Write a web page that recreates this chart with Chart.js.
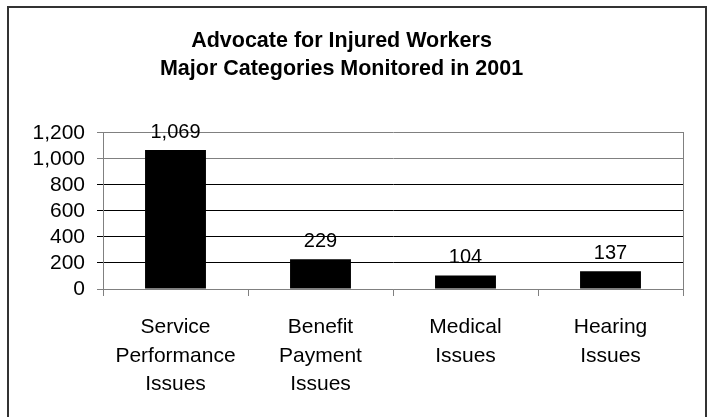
<!DOCTYPE html>
<html>
<head>
<meta charset="utf-8">
<script src="https://cdn.jsdelivr.net/npm/chart.js@4/dist/chart.umd.min.js"></script>
<style>
  html, body { margin: 0; padding: 0; background: #fff; overflow: hidden; }
  #wrap { position: relative; width: 707px; height: 417px; }
  #frame { position: absolute; left: 7px; top: 6px; width: 696px; height: 430px; border: 2px solid #333; border-bottom: none; }
  canvas { position: absolute; left: 0; top: 0; }
</style>
</head>
<body>
<div id="wrap">
  <div id="frame"></div>
  <canvas id="c" width="707" height="417"></canvas>
</div>
<script>
// data
const categories = [
    ['Service', 'Performance', 'Issues'],
    ['Benefit', 'Payment', 'Issues'],
    ['Medical', 'Issues'],
    ['Hearing', 'Issues']
];
const issueCounts = [1069, 229, 104, 137];
const yTicks = [0, 200, 400, 600, 800, 1000, 1200];
const titleLines = ['Advocate for Injured Workers', 'Major Categories Monitored in 2001'];

const FONT = "'Liberation Sans', Arial, sans-serif";
const fmt = v => v.toLocaleString('en-US');

// value labels above the bars
const barLabels = {
    id: 'barLabels',
    afterDatasetsDraw(chart) {
        const ctx = chart.ctx;
        const meta = chart.getDatasetMeta(0);
        ctx.save();
        ctx.font = '20px ' + FONT;
        ctx.fillStyle = '#000';
        ctx.textAlign = 'center';
        ctx.textBaseline = 'alphabetic';
        meta.data.forEach((bar, i) => {
            ctx.fillText(fmt(issueCounts[i]), bar.x, bar.y - 12);
        });
        ctx.restore();
    }
};

new Chart(document.getElementById('c'), {
    type: 'bar',
    data: {
        labels: categories,
        datasets: [{
            data: issueCounts,
            backgroundColor: '#000',
            borderWidth: 0,
            barPercentage: 0.42,
            categoryPercentage: 1
        }]
    },
    options: {
        responsive: false,
        animation: false,
        devicePixelRatio: 1,
        layout: { padding: { left: 0, right: 24, top: 0, bottom: 0 } },
        plugins: {
            legend: { display: false },
            tooltip: { enabled: false },
            title: {
                display: true,
                text: titleLines,
                color: '#000',
                font: { family: FONT, size: 21.5, weight: 'bold', lineHeight: 1.3 },
                padding: { top: 27, bottom: 50 }
            }
        },
        scales: {
            x: {
                grid: { drawOnChartArea: false, drawTicks: true, tickLength: 7, color: '#808080' },
                border: { color: '#808080' },
                ticks: { color: '#000', font: { family: FONT, size: 21, lineHeight: 1.36 }, padding: 17, maxRotation: 0, autoSkip: false },
                afterFit(scale) { scale.height = 128; }
            },
            y: {
                min: 0,
                max: 1200,
                afterBuildTicks(scale) { scale.ticks = yTicks.map(v => ({ value: v })); },
                grid: {
                    tickLength: 6,
                    color: ctx => ctx.tick && (ctx.tick.value >= 1000 || ctx.tick.value === 0) ? '#808080' : '#000'
                },
                border: { color: '#808080' },
                ticks: { color: '#000', font: { family: FONT, size: 21 }, padding: 12, autoSkip: false, callback: v => fmt(v) },
                afterFit(scale) { scale.width = 103; }
            },
            y2: {
                position: 'right',
                min: 0,
                max: 1200,
                grid: { display: false },
                border: { display: true, color: '#808080' },
                ticks: { display: false },
                afterFit(scale) { scale.width = 0; }
            }
        }
    },
    plugins: [barLabels]
});
</script>
</body>
</html>
